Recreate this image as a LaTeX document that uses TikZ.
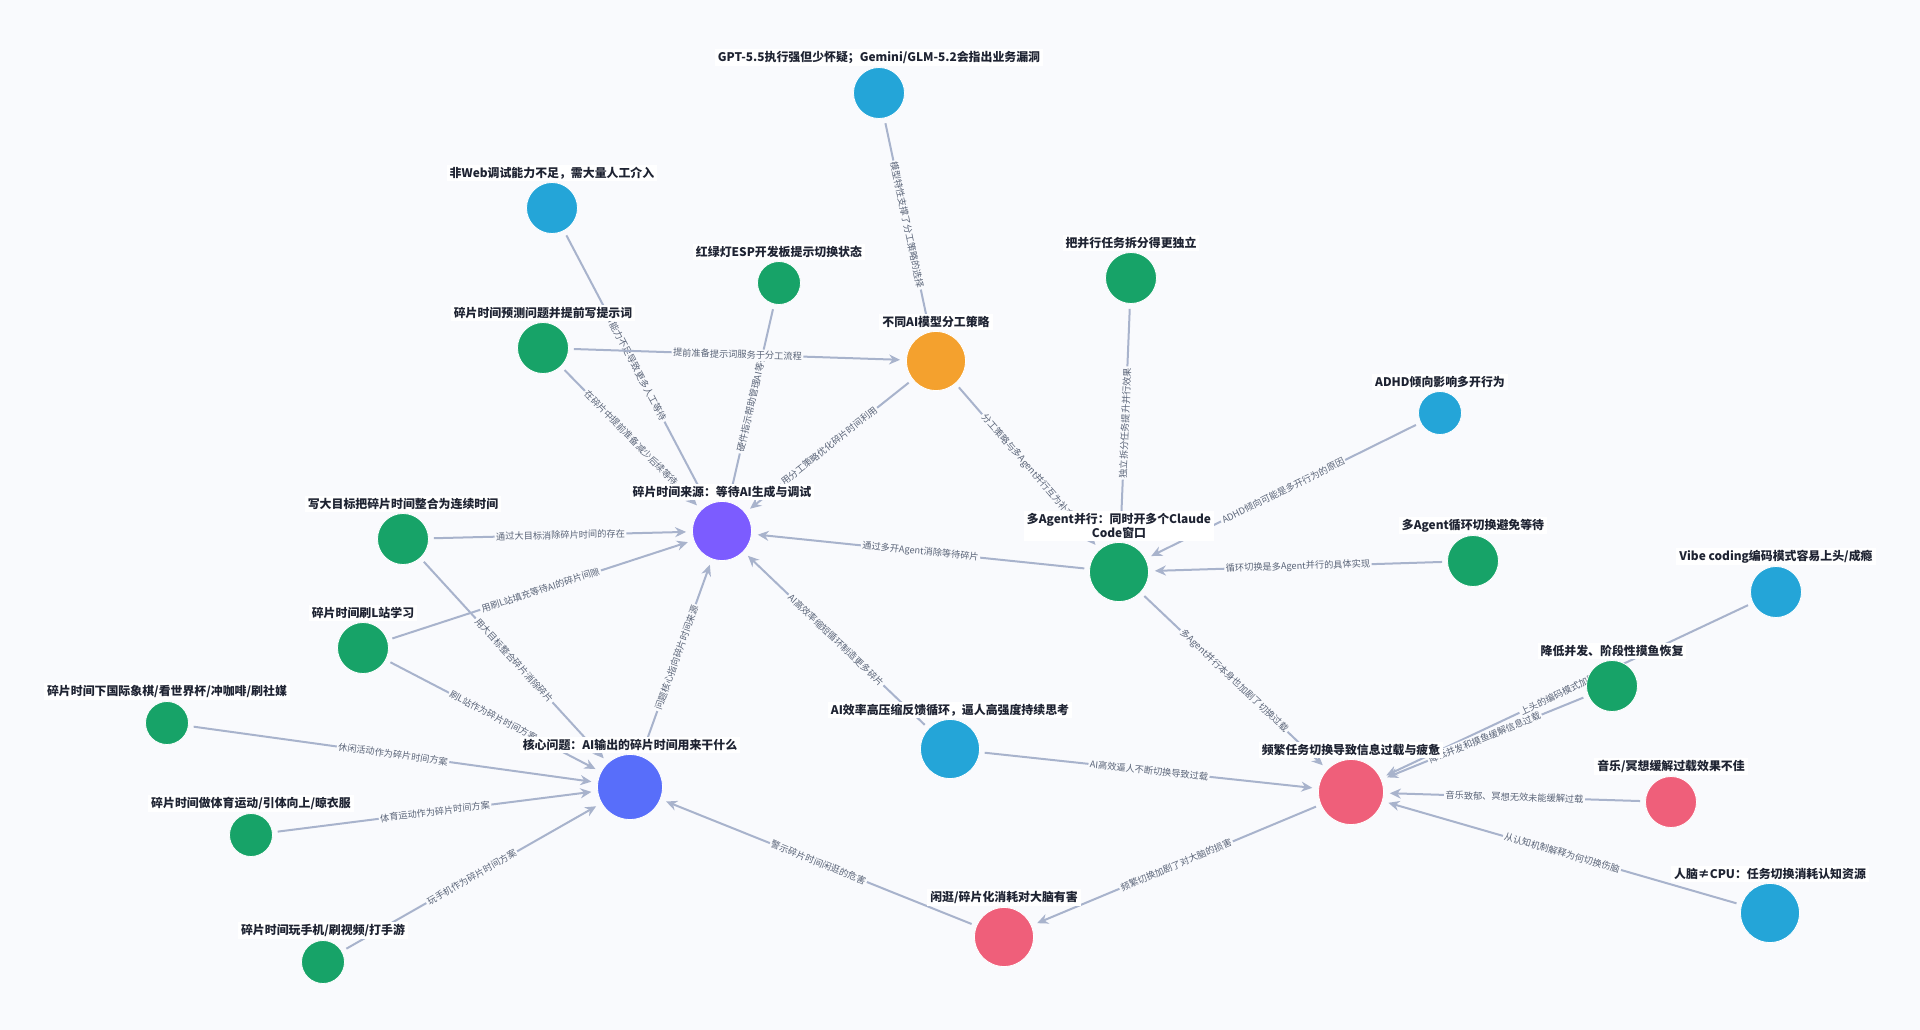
\documentclass[tikz,border=0pt]{standalone}
\usepackage{fontspec}
\setmainfont{Noto Sans CJK SC}
\usetikzlibrary{arrows.meta}
\definecolor{paper}{RGB}{249,250,253}
\definecolor{ink}{RGB}{30,35,50}
\definecolor{wire}{RGB}{168,179,204}
\definecolor{wiretext}{RGB}{90,100,120}
\definecolor{cblue}{RGB}{36,165,216}
\definecolor{cgreen}{RGB}{23,163,104}
\definecolor{corange}{RGB}{244,161,46}
\definecolor{cpurple}{RGB}{124,92,255}
\definecolor{ccore}{RGB}{88,110,250}
\definecolor{cred}{RGB}{239,95,122}
\pgfdeclarelayer{back}
\pgfdeclarelayer{wires}
\pgfsetlayers{back,wires,main}

\begin{document}
\begin{tikzpicture}[x=1pt,y=-1pt]
        \def\sizeS{43pt}
        \def\sizeM{51pt}
        \def\sizeL{59pt}
        \def\sizeX{65pt}
        \tikzstyle{dot} = [circle, draw=white, line width=0.8pt, inner sep=0pt, label distance=-1pt]
        \tikzstyle{tag} = [fill=white, text=ink, inner xsep=3pt, inner ysep=2pt, yshift=1pt, font=\bfseries\fontsize{11.9}{12.5}\selectfont]
        \tikzstyle{link} = [draw=wire, line width=2pt, -{Stealth[length=11pt,width=10pt]}, shorten >=6pt, shorten <=5pt]
        \tikzstyle{linktext} = [midway, sloped, fill=paper, text=wiretext, inner sep=1.5pt, font=\fontsize{9.2}{10}\selectfont]
        % Fix the page to the size of the reference
        \useasboundingbox (0,0) rectangle (1920,1030);
        \begin{pgfonlayer}{back}
            \fill[paper] (0,0) rectangle (1920,1030);
        \end{pgfonlayer}
        % The two hubs: sources of the fragments and the core question
        \node[dot, fill=cpurple, minimum size=\sizeL, label={[tag]above:碎片时间来源：等待AI生成与调试}] (src) at (722,531) {};
        \node[dot, fill=ccore, minimum size=\sizeX, label={[tag]above:核心问题：AI输出的碎片时间用来干什么}] (core) at (630,787) {};
        % Nodes around the sources
        \node[dot, fill=cblue, minimum size=\sizeM, label={[tag]above:GPT-5.5执行强但少怀疑；Gemini/GLM-5.2会指出业务漏洞}] (gpt) at (879,93) {};
        \node[dot, fill=cblue, minimum size=\sizeM, label={[tag]above:非Web调试能力不足，需大量人工介入}] (web) at (552,208) {};
        \node[dot, fill=cgreen, minimum size=\sizeS, label={[tag]above:红绿灯ESP开发板提示切换状态}] (esp) at (779,283) {};
        \node[dot, fill=cgreen, minimum size=\sizeM, label={[tag]above:碎片时间预测问题并提前写提示词}] (pred) at (543,348) {};
        \node[dot, fill=corange, minimum size=\sizeL, label={[tag]above:不同AI模型分工策略}] (strat) at (936,361) {};
        \node[dot, fill=cgreen, minimum size=\sizeM, label={[tag]above:把并行任务拆分得更独立}] (split) at (1131,278) {};
        \node[dot, fill=cblue, minimum size=\sizeS, label={[tag]above:ADHD倾向影响多开行为}] (adhd) at (1440,413) {};
        \node[dot, fill=cgreen, minimum size=\sizeL, label={[tag, align=center]above:多Agent并行：同时开多个Claude\\Code窗口}] (multi) at (1119,572) {};
        \node[dot, fill=cgreen, minimum size=\sizeM, label={[tag]above:多Agent循环切换避免等待}] (loop) at (1473,561) {};
        \node[dot, fill=cgreen, minimum size=\sizeM, label={[tag]above:写大目标把碎片时间整合为连续时间}] (goal) at (403,539) {};
        \node[dot, fill=cgreen, minimum size=\sizeM, label={[tag]above:碎片时间刷L站学习}] (lsite) at (363,648) {};
        \node[dot, fill=cblue, minimum size=\sizeL, label={[tag]above:AI效率高压缩反馈循环，逼人高强度持续思考}] (eff) at (950,749) {};
        % Leisure nodes around the core question
        \node[dot, fill=cgreen, minimum size=\sizeS, label={[tag]above:碎片时间下国际象棋/看世界杯/冲咖啡/刷社媒}] (chess) at (167,723) {};
        \node[dot, fill=cgreen, minimum size=\sizeS, label={[tag]above:碎片时间做体育运动/引体向上/晾衣服}] (sport) at (251,835) {};
        \node[dot, fill=cgreen, minimum size=\sizeS, label={[tag]above:碎片时间玩手机/刷视频/打手游}] (phone) at (323,962) {};
        \node[dot, fill=cred, minimum size=\sizeL, label={[tag]above:闲逛/碎片化消耗对大脑有害}] (idle) at (1004,937) {};
        % Overload cluster on the right
        \node[dot, fill=cred, minimum size=\sizeX, label={[tag]above:频繁任务切换导致信息过载与疲惫}] (over) at (1351,792) {};
        \node[dot, fill=cblue, minimum size=\sizeM, label={[tag]above:Vibe coding编码模式容易上头/成瘾}] (vibe) at (1776,592) {};
        \node[dot, fill=cgreen, minimum size=\sizeM, label={[tag]above:降低并发、阶段性摸鱼恢复}] (calm) at (1612,686) {};
        \node[dot, fill=cred, minimum size=\sizeM, label={[tag]above:音乐/冥想缓解过载效果不佳}] (music) at (1671,802) {};
        \node[dot, fill=cblue, minimum size=\sizeL, label={[tag]above:人脑≠CPU：任务切换消耗认知资源}] (brain) at (1770,913) {};
        % Draw the links with their texts behind the nodes
        \begin{pgfonlayer}{wires}
            \foreach \a/\b/\t in {
                gpt/strat/{模型特性支撑了分工策略的选择},
                web/src/{AI能力不足导致更多人工等待},
                esp/src/{硬件指示帮助管理AI等待},
                pred/strat/{提前准备提示词服务于分工流程},
                pred/src/{在碎片中提前准备减少后续等待},
                strat/src/{用分工策略优化碎片时间利用},
                strat/multi/{分工策略与多Agent并行互为补充},
                split/multi/{独立拆分任务提升并行效果},
                adhd/multi/{ADHD倾向可能是多开行为的原因},
                loop/multi/{循环切换是多Agent并行的具体实现},
                multi/src/{通过多开Agent消除等待碎片},
                multi/over/{多Agent并行本身也加剧了切换过载},
                goal/src/{通过大目标消除碎片时间的存在},
                goal/core/{用大目标整合碎片消除碎片},
                lsite/src/{用刷L站填充等待AI的碎片间隙},
                lsite/core/{刷L站作为碎片时间方案},
                core/src/{问题核心指向碎片时间来源},
                eff/src/{AI高效率缩短循环制造更多碎片},
                eff/over/{AI高效逼人不断切换导致过载},
                chess/core/{休闲活动作为碎片时间方案},
                sport/core/{体育运动作为碎片时间方案},
                phone/core/{玩手机作为碎片时间方案},
                idle/core/{警示碎片时间闲逛的危害},
                over/idle/{频繁切换加剧了对大脑的损害},
                vibe/over/{上头的编码模式加剧过载},
                calm/over/{降低并发和摸鱼缓解信息过载},
                music/over/{音乐致郁、冥想无效未能缓解过载},
                brain/over/{从认知机制解释为何切换伤脑}} {
                \draw[link] (\a) -- node[linktext] {\t} (\b);
            }
        \end{pgfonlayer}
\end{tikzpicture}
\end{document}
